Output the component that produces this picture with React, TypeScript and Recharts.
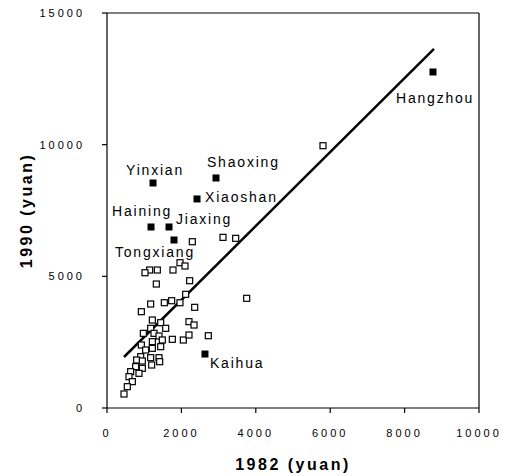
import React from "react";
import {
  ReferenceLine,
  Scatter,
  ScatterChart,
  XAxis,
  YAxis
} from "recharts";

// income per capita, 1982 vs 1990 (yuan)
const countyX = [
  1147, 1353, 1021, 1962, 2097, 1774, 1326, 2222, 3755, 2115,
  1738, 1541, 1174, 923, 1962, 2357, 1219, 1443, 1174, 1577,
  2204, 2339, 977, 1264, 1398, 1487, 1219, 1756, 2052, 2204,
  2724, 923, 1039, 1443, 1219, 905, 1174, 1398, 1416, 797,
  950, 1201, 770, 950, 636, 860, 591, 681, 546, 457,
  2294, 3118, 3459, 5806
];
const countyY = [
  5240, 5240, 5137, 5517, 5392, 5240, 4708, 4834, 4165, 4317,
  4074, 3998, 3949, 3657, 3998, 3823, 3341, 3240, 3026, 3026,
  3278, 3151, 2835, 2835, 2734, 2582, 2519, 2608, 2582, 2772,
  2745, 2392, 2202, 2329, 2266, 1949, 1911, 1911, 1759, 1823,
  1785, 1633, 1570, 1507, 1380, 1317, 1190, 1000, 810, 532,
  6315, 6480, 6443, 9960
];

const cityNames = ["Hangzhou", "Yinxian", "Shaoxing", "Xiaoshan", "Haining", "Jiaxing", "Tongxiang", "Kaihua"];
const cityX = [8763, 1237, 2930, 2420, 1183, 1667, 1801, 2634];
const cityY = [12760, 8545, 8735, 7938, 6874, 6874, 6380, 2050];

const trendX = [457, 8790];
const trendY = [1937, 13634];

const xTicks = [0, 2000, 4000, 6000, 8000, 10000];
const yTicks = [0, 5000, 10000, 15000];

// where each city name sits relative to its marker
const labelOffset: Record<string, [number, number]> = {
  Hangzhou: [-37, 26],
  Yinxian: [-27, -13],
  Shaoxing: [-9, -16],
  Xiaoshan: [8, -2],
  Haining: [-39, -16],
  Jiaxing: [7, -8],
  Tongxiang: [-59, 12],
  Kaihua: [5, 9]
};

const counties = countyX.map((x, i) => ({ x, y: countyY[i] }));
const cities = cityNames.map((name, i) => ({ name, x: cityX[i], y: cityY[i] }));

const font = "'Liberation Sans', Arial, sans-serif";

function OpenSquare(props: any) {
  const { cx, cy } = props;
  if (cx == null || cy == null) return null;
  return <rect x={cx - 3} y={cy - 3} width={6} height={6} fill="#fff" stroke="#000" strokeWidth={1.2} />;
}

function CityMark(props: any) {
  const { cx, cy, payload } = props;
  if (cx == null || cy == null) return null;
  const [dx, dy] = labelOffset[payload.name] ?? [6, 0];
  return (
    <g>
      <rect x={cx - 3.5} y={cy - 3.5} width={7} height={7} fill="#000" />
      <text
        x={cx + dx}
        y={cy + dy}
        dominantBaseline="central"
        fontSize={14}
        letterSpacing={1.8}
        fontFamily={font}
        fill="#000"
      >
        {payload.name}
      </text>
    </g>
  );
}

export default function App() {
  return (
    <div style={{ position: "absolute", left: 0, top: 0, width: 512, height: 476, background: "#fff" }}>
      <ScatterChart
        width={512}
        height={476}
        margin={{ top: 13, right: 33, bottom: 0, left: 0 }}
        style={{ fontFamily: font }}
      >
        <XAxis
          type="number"
          dataKey="x"
          domain={[0, 10000]}
          ticks={xTicks}
          height={68}
          stroke="#000"
          strokeWidth={1.2}
          tickSize={5}
          tickMargin={16}
          tick={{ fill: "#000", fontSize: 11, letterSpacing: 3 }}
          label={{
            value: "1982  (yuan)",
            position: "insideBottom",
            offset: 6,
            fill: "#000",
            fontSize: 16,
            fontWeight: "bold",
            letterSpacing: 2.5
          }}
        />
        <YAxis
          type="number"
          dataKey="y"
          domain={[0, 15000]}
          ticks={yTicks}
          width={107}
          stroke="#000"
          strokeWidth={1.2}
          tickSize={5}
          tickMargin={17}
          tick={{ fill: "#000", fontSize: 11, letterSpacing: 3 }}
          label={{
            value: "1990  (yuan)",
            angle: -90,
            position: "insideLeft",
            offset: 26,
            fill: "#000",
            fontSize: 16,
            fontWeight: "bold",
            letterSpacing: 2.5,
            style: { textAnchor: "middle" }
          }}
        />
        <ReferenceLine y={15000} stroke="#000" strokeWidth={1.2} />
        <ReferenceLine x={10000} stroke="#000" strokeWidth={1.2} />
        <ReferenceLine
          segment={[
            { x: trendX[0], y: trendY[0] },
            { x: trendX[1], y: trendY[1] }
          ]}
          stroke="#000"
          strokeWidth={2.5}
        />
        <Scatter data={counties} shape={<OpenSquare />} isAnimationActive={false} />
        <Scatter data={cities} shape={<CityMark />} isAnimationActive={false} />
      </ScatterChart>
    </div>
  );
}
